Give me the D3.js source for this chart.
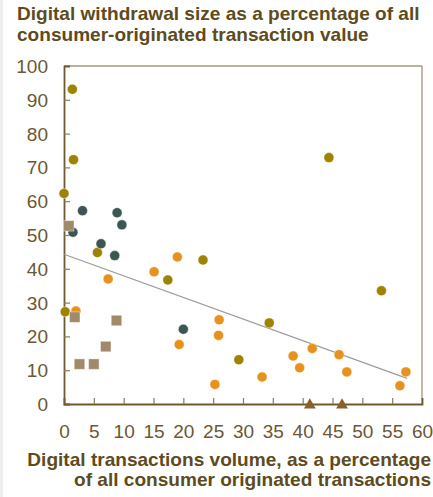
<!DOCTYPE html>
<html>
<head>
<meta charset="utf-8">
<script src="https://cdn.jsdelivr.net/npm/d3@7"></script>
<style>
  body { margin: 0; background: #fff; }
  svg { display: block; font-family: "Liberation Sans", Arial, sans-serif; }
</style>
</head>
<body>
<svg width="433" height="497"></svg>
<script>
// the data
const titleLines = ["Digital withdrawal size as a percentage of all", "consumer-originated transaction value"];
const xTitleLines = ["Digital transactions volume, as a percentage", "of all consumer originated transactions"];
const xTicks = [0, 5, 10, 15, 20, 25, 30, 35, 40, 45, 50, 55, 60];
const yTicks = [0, 10, 20, 30, 40, 50, 60, 70, 80, 90, 100];

const olivePts = [[1.4, 93.1], [1.6, 72.3], [0, 62.3], [5.6, 44.8], [17.4, 36.7], [0.2, 27.3],
  [23.3, 42.6], [34.4, 24], [29.3, 13.1], [53.2, 33.5], [44.4, 72.9]];
const darkPts = [[3.1, 57.2], [8.9, 56.6], [9.7, 53], [1.5, 50.8], [6.2, 47.4], [8.5, 43.9], [20.0, 22.1]];
const orangePts = [[19.0, 43.5], [15.1, 39.1], [7.4, 37], [2.0, 27.5], [19.3, 17.6], [26.0, 24.9],
  [25.9, 20.3], [38.4, 14.2], [39.5, 10.7], [33.2, 8.0], [25.3, 5.8], [41.6, 16.4], [46.1, 14.6],
  [47.4, 9.5], [57.3, 9.5], [56.3, 5.4]];
const squarePts = [[0.8, 52.7], [1.8, 25.7], [8.8, 24.7], [2.6, 11.8], [5.0, 11.8], [7.0, 17]];
const trianglePts = [[41.2, 0], [46.6, 0]];
const trendLine = [[0, 44.3], [57.5, 7.6]];

const svg = d3.select("svg");
const STRETCH = 1.06; // glyphs in the picture are a bit wider than they are tall
const FS = 18;
const textColor = "#5e4b20";
const tickColor = "#6b5834";

// left grey strip
svg.append("rect").attr("x", 0).attr("y", 0).attr("width", 3).attr("height", 497).attr("fill", "#eeeeea");

const x = d3.scaleLinear().domain([0, 60]).range([64, 422]);
const y = d3.scaleLinear().domain([0, 100]).range([404, 66]);

// title
titleLines.forEach((t, i) => {
  svg.append("g").attr("transform", `translate(17,${20 + i * 21})`)
    .append("text")
    .attr("transform", `scale(${STRETCH},1)`)
    .attr("font-size", FS).attr("font-weight", "bold").attr("fill", textColor)
    .text(t);
});

// frame (top and right)
svg.append("line").attr("x1", x(0)).attr("x2", x(60)).attr("y1", y(100)).attr("y2", y(100))
  .attr("stroke", "#7a6642").attr("stroke-width", 1.2);
svg.append("line").attr("x1", x(60)).attr("x2", x(60)).attr("y1", y(100)).attr("y2", y(0))
  .attr("stroke", "#9a8a6e").attr("stroke-width", 1.2);

// axes
const yAxis = svg.append("g").attr("transform", `translate(${x(0)},0)`)
  .call(d3.axisLeft(y).tickValues(yTicks).tickSize(-6).tickPadding(16));
yAxis.selectAll("text").attr("x", -16 / STRETCH).attr("transform", `scale(${STRETCH},1)`)
  .attr("dy", "0.36em");

const xAxis = svg.append("g").attr("transform", `translate(0,${y(0)})`)
  .call(d3.axisBottom(x).tickValues(xTicks).tickSize(-6).tickPadding(21));
xAxis.selectAll("text").attr("transform", `scale(${STRETCH},1)`);

[yAxis, xAxis].forEach(a => {
  a.select(".domain").attr("stroke", "#6e5a30").attr("stroke-width", 1.8);
  a.selectAll(".tick line").attr("stroke", "#8c7a58").attr("stroke-width", 1.2);
  a.selectAll("text").attr("font-size", FS).attr("fill", tickColor)
    .attr("font-family", "Liberation Sans, Arial, sans-serif");
});
xAxis.selectAll(".tick").filter(d => d === 0 || d === 60).select("line").remove();
yAxis.selectAll(".tick").filter(d => d === 0 || d === 100).select("line").remove();

// x axis title, right aligned
xTitleLines.forEach((t, i) => {
  svg.append("g").attr("transform", `translate(431,${466 + i * 19.5})`)
    .append("text")
    .attr("transform", `scale(${STRETCH},1)`)
    .attr("text-anchor", "end")
    .attr("font-size", FS).attr("font-weight", "bold").attr("fill", textColor)
    .text(t);
});

// trend line
svg.append("path").datum(trendLine)
  .attr("d", d3.line().x(d => x(d[0])).y(d => y(d[1])))
  .attr("stroke", "#9a9a9a").attr("stroke-width", 1.2).attr("fill", "none");

// points
const R = 5;
function dots(data, color) {
  svg.append("g").selectAll("circle").data(data).join("circle")
    .attr("cx", d => x(d[0])).attr("cy", d => y(d[1])).attr("r", R)
    .attr("fill", color).attr("stroke", "#fff").attr("stroke-width", 0.6).attr("stroke-opacity", 0.7);
}
dots(orangePts, "#e8921e");
dots(olivePts, "#9c8400");
dots(darkPts, "#3d5553");

svg.append("g").selectAll("path").data(squarePts).join("path")
  .attr("transform", d => `translate(${x(d[0])},${y(d[1])})`)
  .attr("d", d3.symbol(d3.symbolSquare, 110))
  .attr("fill", "#a08a6a").attr("stroke", "#fff").attr("stroke-width", 0.6).attr("stroke-opacity", 0.7);

svg.append("g").selectAll("path").data(trianglePts).join("path")
  .attr("transform", d => `translate(${x(d[0])},${y(d[1]) + 1})`)
  .attr("d", d3.symbol(d3.symbolTriangle, 60))
  .attr("fill", "#8b5e2a");
</script>
</body>
</html>
